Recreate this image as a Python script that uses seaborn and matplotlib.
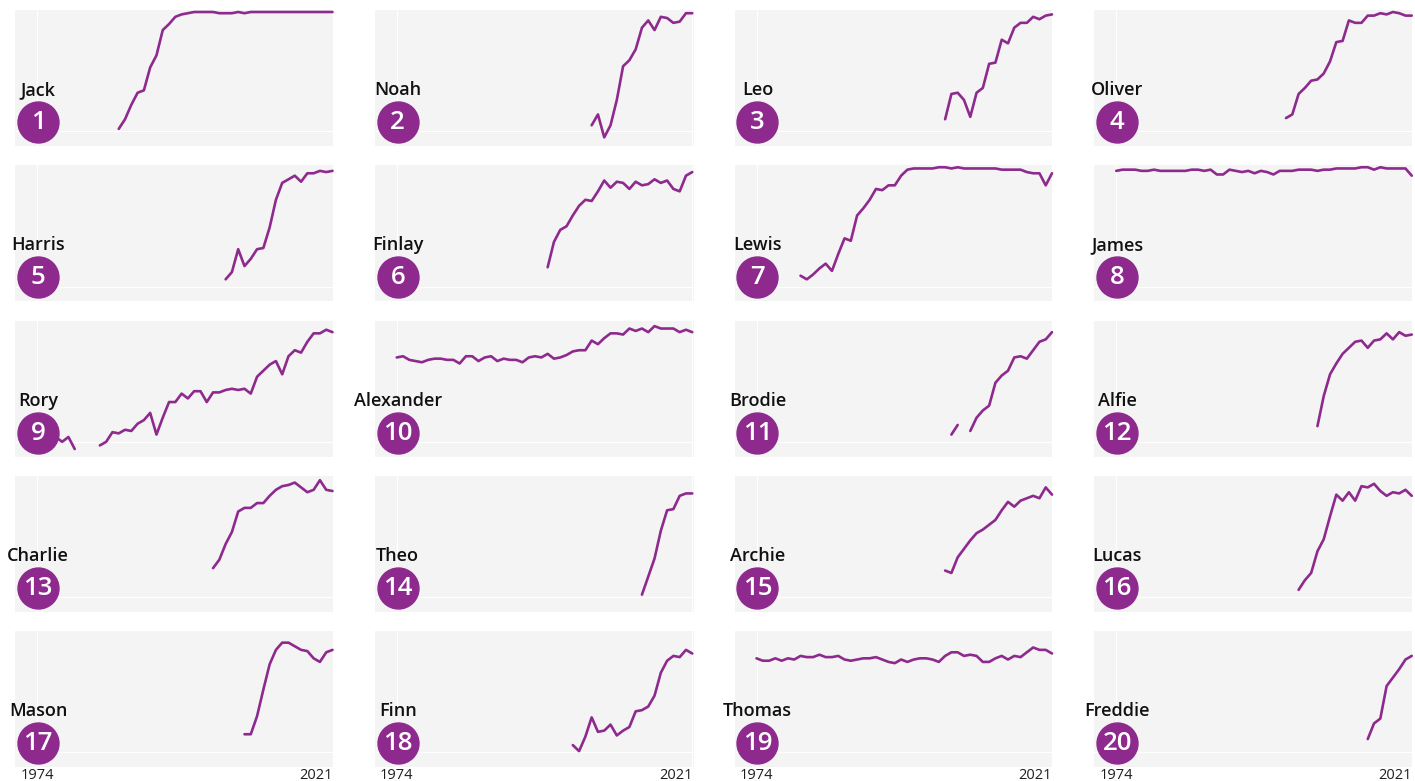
import matplotlib.pyplot as plt
import numpy as np
import pandas as pd
import seaborn as sns

# Top 20 boys' names, rank per year from the first year they show up (None = out of the list)
names = ["Jack", "Noah", "Leo", "Oliver", "Harris", "Finlay", "Lewis", "James",
         "Rory", "Alexander", "Brodie", "Alfie", "Charlie", "Theo", "Archie", "Lucas",
         "Mason", "Finn", "Thomas", "Freddie"]
first_year = [1987, 2005, 2004, 2001, 2004, 1998, 1981, 1974,
              1974, 1974, 2005, 2006, 2002, 2013, 2004, 2003,
              2007, 2002, 1974, 2014]

jack = [98, 90, 78, 68, 66, 47, 37, 16, 11, 5, 3, 2, 1, 1, 1, 1, 2, 2, 2, 1, 2,
        1, 1, 1, 1, 1, 1, 1, 1, 1, 1, 1, 1, 1, 1]
noah = [95, 86, 105, 95, 74, 46, 41, 32, 14, 8, 16, 5, 6, 10, 9, 2, 2]
leo = [90, 69, 68, 74, 88, 68, 64, 44, 43, 24, 27, 14, 10, 10, 5, 7, 4, 3]
oliver = [89, 86, 69, 64, 58, 57, 52, 42, 26, 25, 8, 10, 10, 4, 4, 2, 3, 1, 2, 4, 4]
harris = [94, 88, 69, 83, 77, 69, 68, 51, 28, 14, 11, 8, 13, 6, 6, 4, 5, 4]
finlay = [84, 63, 53, 50, 41, 33, 28, 29, 21, 12, 18, 13, 14, 19, 13, 16, 15, 11,
          14, 12, 19, 21, 8, 5]
lewis = [91, 94, 90, 85, 81, 87, 73, 60, 62, 41, 35, 28, 19, 20, 16, 16, 8, 3, 2, 2,
         2, 2, 1, 1, 2, 1, 2, 2, 2, 2, 2, 2, 3, 3, 3, 3, 5, 6, 6, 16, 6]
james = [4, 3, 3, 3, 4, 4, 3, 4, 4, 4, 4, 4, 3, 3, 4, 3, 7, 7, 3, 4, 5, 4, 6, 4,
         5, 7, 4, 4, 4, 3, 3, 3, 4, 3, 3, 2, 2, 2, 2, 1, 1, 3, 1, 2, 2, 2, 2, 8]
rory = [94, 97, 95, 96, 100, 96, 106, None, None, None, 103, 100, 92, 93, 90, 91,
        85, 82, 76, 94, 80, 67, 67, 60, 64, 58, 58, 67, 59, 59, 57, 56, 57, 56, 60,
        46, 41, 36, 33, 44, 29, 24, 26, 17, 10, 10, 7, 9]
alexander = [30, 29, 32, 33, 34, 32, 31, 31, 32, 32, 35, 29, 29, 33, 30, 29, 33, 31,
             32, 32, 34, 30, 29, 30, 27, 31, 30, 28, 25, 24, 24, 16, 19, 14, 10, 10,
             11, 6, 8, 6, 9, 4, 6, 6, 6, 9, 7, 9]
brodie = [94, 86, None, 91, 80, 74, 70, 51, 45, 41, 30, 29, 31, 24, 17, 15, 9]
alfie = [87, 62, 44, 35, 27, 22, 17, 16, 22, 16, 15, 10, 15, 9, 12, 11]
charlie = [76, 69, 56, 46, 29, 26, 26, 22, 22, 16, 11, 8, 7, 5, 9, 13, 11, 3, 11, 12]
theo = [98, 83, 68, 45, 28, 27, 16, 14, 14]
archie = [78, 80, 67, 60, 53, 47, 44, 40, 36, 28, 21, 25, 20, 18, 16, 18, 9, 15]
lucas = [94, 86, 80, 62, 52, 33, 15, 20, 13, 20, 8, 9, 6, 12, 16, 13, 14, 11, 16]
mason = [85, 85, 70, 48, 27, 15, 9, 9, 12, 15, 16, 22, 25, 17, 15]
finn = [94, 99, 87, 71, 83, 82, 77, 86, 82, 79, 66, 65, 62, 53, 34, 24, 20, 21, 15, 18]
thomas = [22, 24, 24, 22, 24, 22, 23, 20, 21, 21, 19, 21, 21, 20, 23, 24, 23, 22,
          22, 21, 23, 25, 26, 23, 25, 23, 22, 22, 23, 25, 20, 17, 17, 20, 19, 20,
          25, 25, 22, 20, 23, 20, 21, 17, 13, 15, 15, 18]
freddie = [89, 76, 72, 45, 38, 31, 23, 20]

series = [jack, noah, leo, oliver, harris, finlay, lewis, james, rory, alexander,
          brodie, alfie, charlie, theo, archie, lucas, mason, finn, thomas, freddie]

purple = "#8E2A8E"

# long table, new segment after every gap
rows = []
for name, start, ranks in zip(names, first_year, series):
    seg = 0
    for i, r in enumerate(ranks):
        if r is None:
            seg += 1
            continue
        rows.append({"name": name, "year": start + i, "rank": r, "seg": seg})
df = pd.DataFrame(rows)

sns.set_style("white")
plt.rcParams["font.family"] = ["Open Sans", "DejaVu Sans"]

g = sns.relplot(data=df, x="year", y="rank", col="name", col_order=names, col_wrap=4,
                kind="line", units="seg", estimator=None, color=purple, linewidth=1.9,
                height=1.36, aspect=2.34)
g.set_titles("")
g.set_axis_labels("", "")
g.set(xlim=(1970.5, 2021.2), ylim=(112.2, -0.66), xticks=[1974, 2021], yticks=[100])
sns.despine(left=True, bottom=True)

for i, ax in enumerate(g.axes.flat):
    ax.set_facecolor("#F4F4F4")
    ax.grid(True, color="white", linewidth=0.8)
    ax.tick_params(length=0, labelleft=False, labelbottom=(i >= 16), pad=1,
                   labelsize=10.5, colors="#1F1F1F")
    for line in ax.lines:
        line.set_clip_on(False)
    ax.scatter([0.072], [0.176], s=870, color=purple, transform=ax.transAxes,
               clip_on=False, zorder=5)
    ax.text(0.072, 0.172, str(i + 1), transform=ax.transAxes, ha="center", va="center",
            color="white", fontsize=18.5, fontweight="semibold", zorder=6)
    ax.text(0.072, 0.41, names[i], transform=ax.transAxes, ha="center", va="center",
            color="#111111", fontsize=13, fontweight="semibold", zorder=6)
    if i >= 16:
        ax.get_xticklabels()[1].set_ha("right")

g.figure.set_size_inches(14.15, 7.81)
g.figure.subplots_adjust(left=0.0106, right=0.9986, top=0.9872, bottom=0.0179,
                         wspace=0.1286, hspace=0.1415)
g.figure.savefig("out.png", dpi=100)
